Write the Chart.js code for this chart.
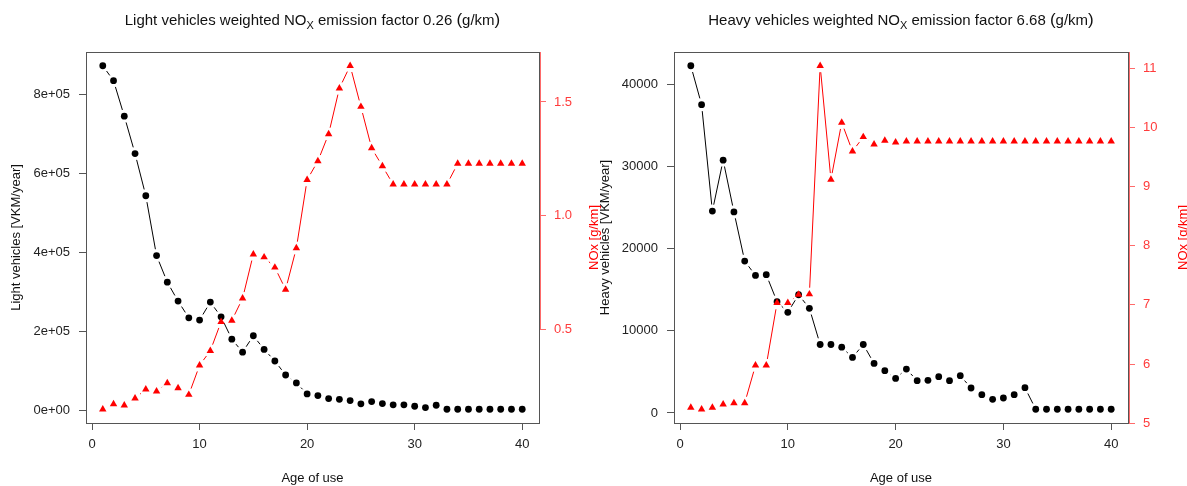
<!DOCTYPE html>
<html>
<head>
<meta charset="utf-8">
<script src="https://cdn.jsdelivr.net/npm/chart.js@4"></script>
<style>
  html, body { margin: 0; padding: 0; background: #fff; }
  #wrap { position: relative; width: 1187px; height: 486px; overflow: hidden; }
  #wrap canvas { position: absolute; top: 0; }
</style>
</head>
<body>
<div id="wrap">
  <canvas id="heavy" width="594" height="486" style="left:593px"></canvas>
  <canvas id="light" width="606" height="486" style="left:0"></canvas>
</div>
<script>
const ages = [1, 2, 3, 4, 5, 6, 7, 8, 9, 10, 11, 12, 13, 14, 15, 16, 17, 18, 19, 20,
  21, 22, 23, 24, 25, 26, 27, 28, 29, 30, 31, 32, 33, 34, 35, 36, 37, 38, 39, 40];

// light vehicles, VKM/year and NOx g/km by age
const lightVkm = [874000, 836000, 746000, 651000, 544000, 392000, 324600, 276500, 234000, 228400,
  274000, 236700, 180000, 147000, 188600, 154000, 124500, 89000, 68800, 41000,
  36700, 29100, 27300, 24000, 15700, 21500, 16500, 13200, 13200, 9600,
  6300, 12200, 2000, 2000, 2000, 2000, 2000, 2000, 2000, 2000];
const lightNox = [0.150, 0.173, 0.167, 0.198, 0.238, 0.229, 0.265, 0.243, 0.214, 0.343,
  0.407, 0.534, 0.540, 0.637, 0.831, 0.818, 0.773, 0.676, 0.858, 1.158,
  1.240, 1.359, 1.560, 1.659, 1.479, 1.297, 1.218, 1.138, 1.138, 1.138,
  1.138, 1.138, 1.138, 1.229, 1.229, 1.229, 1.229, 1.229, 1.229, 1.229];

// heavy vehicles
const heavyVkm = [42300, 37560, 24600, 30800, 24490, 18500, 16750, 16840, 13560, 12260,
  14400, 12750, 8340, 8340, 8010, 6760, 8340, 6030, 5150, 4210,
  5340, 3930, 3970, 4420, 3930, 4540, 3040, 2230, 1660, 1820,
  2230, 3080, 450, 450, 450, 450, 450, 450, 450, 450];
const heavyNox = [5.263, 5.236, 5.263, 5.320, 5.342, 5.342, 5.977, 5.977, 7.033, 7.033,
  7.174, 7.180, 11.04, 9.117, 10.08, 9.594, 9.837, 9.712, 9.775, 9.745,
  9.763, 9.763, 9.763, 9.763, 9.763, 9.763, 9.763, 9.763, 9.763, 9.763,
  9.763, 9.763, 9.763, 9.763, 9.763, 9.763, 9.763, 9.763, 9.763, 9.763];

const ageTicks = [0, 10, 20, 30, 40];
const lightVkmTicks = [0, 200000, 400000, 600000, 800000];
const lightVkmLabels = ['0e+00', '2e+05', '4e+05', '6e+05', '8e+05'];
const lightNoxTicks = [0.5, 1.0, 1.5];
const lightNoxLabels = ['0.5', '1.0', '1.5'];
const heavyVkmTicks = [0, 10000, 20000, 30000, 40000];
const heavyVkmLabels = ['0', '10000', '20000', '30000', '40000'];
const heavyNoxTicks = [5, 6, 7, 8, 9, 10, 11];
const heavyNoxLabels = ['5', '6', '7', '8', '9', '10', '11'];

const FONT = "'Liberation Sans', Arial, sans-serif";
const RED = '#ff0000';
const RED_AXIS = '#ff6a6a';
const GAP = 6.5;

// R-style axis limits: data range stretched by 4% each side
function rRange(vals) {
  const lo = Math.min(...vals), hi = Math.max(...vals);
  const pad = (hi - lo) * 0.04;
  return { min: lo - pad, max: hi + pad };
}

function pairs(ys) {
  return ages.map((a, i) => ({ x: a, y: ys[i] }));
}

// type="b" lines: segments stop short of each point
const gappedLines = {
  id: 'gappedLines',
  beforeDatasetsDraw(chart) {
    const ctx = chart.ctx;
    chart.data.datasets.forEach((ds, i) => {
      const pts = chart.getDatasetMeta(i).data;
      ctx.save();
      ctx.strokeStyle = ds.borderColor;
      ctx.lineWidth = 1;
      ctx.beginPath();
      for (let k = 1; k < pts.length; k++) {
        const a = pts[k - 1], b = pts[k];
        const dx = b.x - a.x, dy = b.y - a.y;
        const len = Math.hypot(dx, dy);
        if (len <= 2 * GAP) continue;
        const ux = dx / len, uy = dy / len;
        ctx.moveTo(a.x + ux * GAP, a.y + uy * GAP);
        ctx.lineTo(b.x - ux * GAP, b.y - uy * GAP);
      }
      ctx.stroke();
      ctx.restore();
    });
  }
};

// box, red right axis line, title with subscript, red right-hand label
const decorations = {
  id: 'decorations',
  afterDraw(chart, args, opts) {
    const ctx = chart.ctx;
    const a = chart.chartArea;
    ctx.save();
    ctx.strokeStyle = '#555';
    ctx.lineWidth = 1;
    ctx.strokeRect(Math.round(a.left) + 0.5, Math.round(a.top) + 0.5,
      Math.round(a.right - a.left), Math.round(a.bottom - a.top));

    const y2 = chart.scales.y2;
    const lowTick = y2.getPixelForValue(opts.redFrom);
    ctx.strokeStyle = RED_AXIS;
    ctx.beginPath();
    ctx.moveTo(Math.round(a.right) + 1.5, Math.max(lowTick, a.top));
    ctx.lineTo(Math.round(a.right) + 1.5, a.top);
    ctx.stroke();

    // title
    const cx = (a.left + a.right) / 2;
    const parts = [
      { t: opts.title[0], f: '15px ' + FONT, dy: 0 },
      { t: 'X', f: '11px ' + FONT, dy: 4 },
      { t: opts.title[1], f: '15px ' + FONT, dy: 0 },
      { t: '(', f: '17px ' + FONT, dy: 0 },
      { t: 'g/km', f: '15px ' + FONT, dy: 0 },
      { t: ')', f: '17px ' + FONT, dy: 0 }
    ];
    let w = 0;
    parts.forEach(p => { ctx.font = p.f; p.w = ctx.measureText(p.t).width; w += p.w; });
    let x = cx - w / 2;
    ctx.fillStyle = '#111';
    ctx.textBaseline = 'alphabetic';
    parts.forEach(p => {
      ctx.font = p.f;
      ctx.fillText(p.t, x, 25 + p.dy);
      x += p.w;
    });

    ctx.font = '13px ' + FONT;
    ctx.fillStyle = RED;
    ctx.textAlign = 'center';
    ctx.textBaseline = 'middle';
    ctx.translate(a.right + opts.redLabelOffset, (a.top + a.bottom) / 2);
    ctx.rotate(-Math.PI / 2);
    ctx.fillText('NOx [g/km]', 0, 0);
    ctx.restore();
  }
};

function tickScale(ticks, labels, extra) {
  return Object.assign({
    afterBuildTicks: s => { s.ticks = ticks.map(v => ({ value: v })); },
    border: { display: false },
    grid: { drawOnChartArea: false, drawTicks: true, tickLength: 7, color: '#555' },
    ticks: {
      autoSkip: false,
      maxRotation: 0,
      color: '#222',
      font: { family: FONT, size: 13 },
      callback: (v, i) => labels[i]
    }
  }, extra);
}

function makeChart(id, cfg) {
  const vkmRange = rRange(cfg.vkm);
  const noxRange = rRange(cfg.nox);
  const xRange = rRange(ages);
  const y2 = tickScale(cfg.noxTicks, cfg.noxLabels, {
    type: 'linear', position: 'right', min: noxRange.min, max: noxRange.max,
    afterFit: s => { s.width = cfg.rightW; }
  });
  y2.grid.color = RED_AXIS;
  y2.ticks.color = '#ff3b3b';
  y2.ticks.padding = 8;

  const y = tickScale(cfg.vkmTicks, cfg.vkmLabels, {
    type: 'linear', position: 'left', min: vkmRange.min, max: vkmRange.max,
    afterFit: s => { s.width = cfg.leftW; },
    title: {
      display: true, text: cfg.vkmTitle, color: '#111',
      font: { family: FONT, size: 13 }, padding: { top: cfg.titlePad, bottom: 0 }
    }
  });
  y.ticks.padding = 9;

  const x = tickScale(ageTicks, ageTicks.map(String), {
    type: 'linear', min: xRange.min, max: xRange.max,
    afterFit: s => { s.height = 63; },
    title: {
      display: true, text: 'Age of use', color: '#111',
      font: { family: FONT, size: 13 }, padding: { top: 0, bottom: 0 }
    }
  });
  x.ticks.padding = 7;

  return new Chart(document.getElementById(id), {
    type: 'line',
    data: {
      datasets: [
        {
          data: pairs(cfg.nox), yAxisID: 'y2', showLine: false,
          borderColor: RED, backgroundColor: RED,
          pointStyle: 'triangle', pointRadius: 4.3, pointBorderWidth: 0
        },
        {
          data: pairs(cfg.vkm), yAxisID: 'y', showLine: false,
          borderColor: '#000', backgroundColor: '#000',
          pointStyle: 'circle', pointRadius: 3.4, pointBorderWidth: 0
        }
      ]
    },
    options: {
      responsive: false,
      animation: false,
      layout: { padding: { top: 52, left: 0, right: 0, bottom: 0 } },
      plugins: {
        legend: { display: false },
        tooltip: { enabled: false },
        decorations: { title: cfg.title, redFrom: cfg.noxTicks[0], redLabelOffset: 55 }
      },
      scales: { x, y, y2 }
    },
    plugins: [gappedLines, decorations]
  });
}

makeChart('light', {
  vkm: lightVkm, nox: lightNox,
  vkmTicks: lightVkmTicks, vkmLabels: lightVkmLabels,
  noxTicks: lightNoxTicks, noxLabels: lightNoxLabels,
  vkmTitle: 'Light vehicles [VKM/year]', titlePad: 9,
  title: ['Light vehicles weighted NO', ' emission factor 0.26 '],
  leftW: 86, rightW: 67
});

makeChart('heavy', {
  vkm: heavyVkm, nox: heavyNox,
  vkmTicks: heavyVkmTicks, vkmLabels: heavyVkmLabels,
  noxTicks: heavyNoxTicks, noxLabels: heavyNoxLabels,
  vkmTitle: 'Heavy vehicles [VKM/year]', titlePad: 5,
  title: ['Heavy vehicles weighted NO', ' emission factor 6.68 '],
  leftW: 81, rightW: 59
});
</script>
</body>
</html>
